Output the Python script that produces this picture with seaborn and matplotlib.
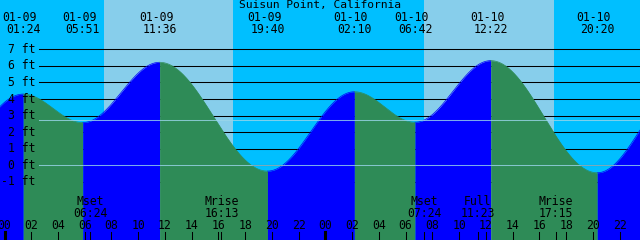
import numpy as np
import pandas as pd
import matplotlib
matplotlib.use("Agg")
import matplotlib.pyplot as plt
import matplotlib.transforms as mtransforms
import seaborn as sns

# ---------------- data ----------------
title = "Suisun Point, California"
# tide extremes shown on the chart (hours from 01-09 00:00)
event_dates = ["01-09", "01-09", "01-09", "01-09", "01-10", "01-10", "01-10", "01-10"]
event_times = ["01:24", "05:51", "11:36", "19:40", "02:10", "06:42", "12:22", "20:20"]
event_heights = [4.3, 2.58, 6.22, -0.35, 4.44, 2.6, 6.32, -0.45]
# extremes just outside the visible window (01-08 evening low, 01-11 early high)
prev_extreme = (-5.17, -0.3)
next_extreme = (50.57, 4.5)

sun_rise_set = [7.44, 17.07, 31.38, 41.10]  # hours: sunrise, sunset, sunrise, sunset

moon_labels = ["Mset", "Mrise", "Mset", "Full", "Mrise"]
moon_times = ["06:24", "16:13", "07:24", "11:23", "17:15"]
moon_day = [0, 0, 1, 1, 1]

ft_levels = [7, 6, 5, 4, 3, 2, 1, 0, -1]
mean_level = 2.73
hour_ticks = list(range(0, 49, 2))
hour_labels = ["%02d" % (h % 24) for h in hour_ticks]

# ---------------- helpers ----------------
def to_hours(s, day):
    hh, mm = s.split(":")
    return day * 24 + int(hh) + int(mm) / 60.0

day_index = {"01-09": 0, "01-10": 1}
ev_t = [to_hours(t, day_index[d]) for d, t in zip(event_dates, event_times)]
all_t = [prev_extreme[0]] + ev_t + [next_extreme[0]]
all_h = [prev_extreme[1]] + event_heights + [next_extreme[1]]

X0, X1 = -0.337, 47.53
Y0, Y1 = -4.51, 9.98
PXH = (X1 - X0) / 640.0  # hours per pixel

NIGHT = "#00BFFF"
DAY = "#87CEEB"
RISE = "#0000FF"
FALL = "#2E8B57"

fig = plt.figure(figsize=(6.4, 2.4), dpi=100)
ax = fig.add_axes([0, 0, 1, 1])

# sky bands
ax.axvspan(X0, X1, color=NIGHT, lw=0, zorder=0)
for i in range(0, len(sun_rise_set), 2):
    ax.axvspan(sun_rise_set[i], sun_rise_set[i + 1], color=DAY, lw=0, zorder=0.5)

# grid lines (behind water)
xmin_frac = 39 / 640.0
for lv in ft_levels:
    ax.axhline(lv, xmin=xmin_frac, xmax=1, color="black", lw=0.75, zorder=1)

# tide curve, segment by segment between extremes
rows = []
for i in range(len(all_t) - 1):
    ta, tb = all_t[i], all_t[i + 1]
    ha, hb = all_h[i], all_h[i + 1]
    tt = np.linspace(ta, tb, 200)
    hh = ha + (hb - ha) * (1 - np.cos(np.pi * (tt - ta) / (tb - ta))) / 2
    phase = "rise" if hb > ha else "fall"
    ax.fill_between(tt, hh, Y0, color=RISE if phase == "rise" else FALL, lw=0, zorder=2)
    rows.append(pd.DataFrame({"t": tt, "h": hh, "seg": i, "phase": phase}))
curve = pd.concat(rows, ignore_index=True)
sns.lineplot(data=curve, x="t", y="h", hue="phase", units="seg", estimator=None,
             palette={"rise": RISE, "fall": FALL}, lw=0.5, legend=False, ax=ax, zorder=2.5)
ax.set_xlim(X0, X1)
ax.set_ylim(Y0, Y1)
ax.axis("off")

# light datum lines over the water
for lv in [mean_level, 0]:
    ax.axhline(lv, xmin=xmin_frac, xmax=1, color="#9ad6ea", lw=0.75, alpha=0.8, zorder=3)

FONT = dict(family="DejaVu Sans Mono", size=8.3, color="black")
trans = mtransforms.blended_transform_factory(ax.transData, ax.transAxes)

def yf(px):
    return 1 - px / 240.0

# ft labels
for lv in ft_levels:
    ax.text(X0 + 35 * PXH, lv, "%d ft" % lv, ha="right", va="center", zorder=5, **FONT)

# title
ax.text(0.5, yf(4.9), title, transform=ax.transAxes, ha="center", va="center", zorder=5,
        family="DejaVu Sans Mono", size=8.1, color="black")

# tide event labels
for d, t, x in zip(event_dates, event_times, ev_t):
    ax.text(x - 3.5 * PXH, yf(17.2), d, transform=trans, ha="center", va="center", zorder=5, **FONT)
    ax.text(x, yf(29.2), t, transform=trans, ha="center", va="center", zorder=5, **FONT)

# moon labels + ticks
moon_x = [to_hours(t, d) for t, d in zip(moon_times, moon_day)]
for lab, t, x in zip(moon_labels, moon_times, moon_x):
    ax.text(x, yf(201.5), lab, transform=trans, ha="center", va="center", zorder=5, **FONT)
    ax.text(x, yf(213.5), t, transform=trans, ha="center", va="center", zorder=5, **FONT)
    ax.plot([x, x], [0, 8 / 240.0], transform=trans, color="black", lw=0.75, zorder=5)

# hour ticks and labels
for h, lab in zip(hour_ticks, hour_labels):
    ax.text(h, yf(225.8), lab, transform=trans, ha="center", va="center", zorder=5, **FONT)
    lw = 2.2 if h % 24 == 0 else 0.75
    ax.plot([h, h], [0, 8 / 240.0], transform=trans, color="black", lw=lw, zorder=5)

fig.savefig("out.png", dpi=100)
